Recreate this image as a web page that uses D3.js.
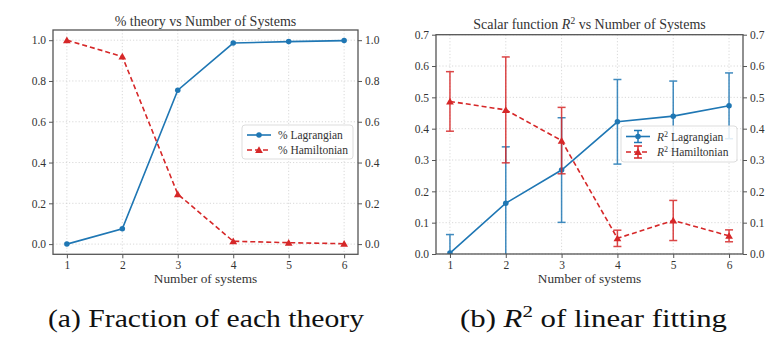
<!DOCTYPE html>
<html>
<head>
<meta charset="utf-8">
<script src="https://cdn.jsdelivr.net/npm/d3@7"></script>
<style>
  html, body { margin: 0; padding: 0; background: #fff; }
  svg { display: block; font-family: "Liberation Serif", "DejaVu Serif", serif; }
</style>
</head>
<body>
<svg id="chart" width="776" height="346"></svg>
<script>
// ---- data ----
const systems = [1, 2, 3, 4, 5, 6];
const xTicks = [1, 2, 3, 4, 5, 6];

const fracLagrangian = [0.0, 0.075, 0.755, 0.986, 0.993, 0.998];
const fracHamiltonian = [1.0, 0.92, 0.245, 0.014, 0.007, 0.002];
const fracTicks = [0.0, 0.2, 0.4, 0.6, 0.8, 1.0];

const r2Lagrangian = [0.003, 0.162, 0.268, 0.422, 0.440, 0.473];
const r2LagrangianErr = [0.059, 0.180, 0.167, 0.135, 0.112, 0.105];
const r2Hamiltonian = [0.487, 0.460, 0.362, 0.050, 0.107, 0.058];
const r2HamiltonianErr = [0.095, 0.169, 0.106, 0.026, 0.064, 0.019];
const r2Ticks = [0.0, 0.1, 0.2, 0.3, 0.4, 0.5, 0.6, 0.7];

const BLUE = "#1f77b4", RED = "#d62728";
const svg = d3.select("#chart");

function addParts(textSel, parts, supSize, shift) {
  parts.forEach(p => {
    const ts = textSel.append("tspan").text(p.t);
    if (p.i) ts.attr("font-style", "italic");
    if (p.sup) ts.attr("font-size", supSize).attr("dy", -shift);
    if (p.down) ts.attr("dy", shift);
  });
}

function panel(opts) {
  const { id, left, right, top, bottom, yDomain, yTicks, series, legend } = opts;
  const x = d3.scaleLinear().domain([0.75, 6.25]).range([left, right]);
  const y = d3.scaleLinear().domain(yDomain).range([bottom, top]);
  const g = svg.append("g");

  g.append("clipPath").attr("id", "clip" + id)
    .append("rect").attr("x", left).attr("y", top)
    .attr("width", right - left).attr("height", bottom - top);

  // grid
  const grid = g.append("g").attr("stroke", "#cfcfcf").attr("stroke-width", 0.8)
    .attr("stroke-dasharray", "1.2,2");
  grid.selectAll(".gx").data(xTicks).join("line")
    .attr("x1", d => x(d)).attr("x2", d => x(d)).attr("y1", top).attr("y2", bottom);
  grid.selectAll(".gy").data(yTicks).join("line")
    .attr("y1", d => y(d)).attr("y2", d => y(d)).attr("x1", left).attr("x2", right);

  // axes
  const fmt = d3.format(".1f");
  const axStyle = sel => {
    sel.select(".domain").remove();
    sel.selectAll(".tick line").attr("stroke", "#555").attr("stroke-width", 1);
    sel.selectAll(".tick text").attr("fill", "#333").attr("font-size", 11.5)
      .attr("font-family", "Liberation Serif, serif");
  };
  g.append("g").attr("transform", `translate(0,${bottom})`)
    .call(d3.axisBottom(x).tickValues(xTicks).tickFormat(d3.format("d")).tickSize(4).tickPadding(3))
    .call(axStyle);
  g.append("g").attr("transform", `translate(${left},0)`)
    .call(d3.axisLeft(y).tickValues(yTicks).tickFormat(fmt).tickSize(4).tickPadding(3))
    .call(axStyle);
  g.append("g").attr("transform", `translate(${right},0)`)
    .call(d3.axisRight(y).tickValues(yTicks).tickFormat(fmt).tickSize(4).tickPadding(3))
    .call(axStyle);

  // series
  const plot = g.append("g").attr("clip-path", `url(#clip${id})`);
  series.forEach(s => {
    const pts = systems.map((d, i) => ({ x: d, y: s.values[i], e: s.err ? s.err[i] : 0 }));
    if (s.err) {
      const eb = plot.append("g").attr("stroke", s.color).attr("stroke-width", 1.5).attr("opacity", 0.85);
      eb.selectAll(".v").data(pts).join("line")
        .attr("x1", d => x(d.x)).attr("x2", d => x(d.x))
        .attr("y1", d => y(d.y - d.e)).attr("y2", d => y(d.y + d.e));
      eb.selectAll(".ct").data(pts).join("line")
        .attr("x1", d => x(d.x) - 4).attr("x2", d => x(d.x) + 4)
        .attr("y1", d => y(d.y + d.e)).attr("y2", d => y(d.y + d.e));
      eb.selectAll(".cb").data(pts).join("line")
        .attr("x1", d => x(d.x) - 4).attr("x2", d => x(d.x) + 4)
        .attr("y1", d => y(d.y - d.e)).attr("y2", d => y(d.y - d.e));
    }
    plot.append("path").datum(pts)
      .attr("fill", "none").attr("stroke", s.color).attr("stroke-width", 1.6)
      .attr("stroke-dasharray", s.dash ? "5,3" : null)
      .attr("d", d3.line().x(d => x(d.x)).y(d => y(d.y)));
    const sym = d3.symbol().type(s.marker === "tri" ? d3.symbolTriangle : d3.symbolCircle)
      .size(s.marker === "tri" ? 26 : 24);
    plot.selectAll(null).data(pts).join("path")
      .attr("transform", d => `translate(${x(d.x)},${y(d.y) + (s.marker === "tri" ? 0.8 : 0)})`)
      .attr("d", sym).attr("fill", s.color);
  });

  // frame
  g.append("rect").attr("x", left).attr("y", top).attr("width", right - left)
    .attr("height", bottom - top).attr("fill", "none").attr("stroke", "#555").attr("stroke-width", 1.3);

  // title
  const t = g.append("text").attr("x", (left + right) / 2).attr("y", opts.titleY)
    .attr("text-anchor", "middle").attr("font-size", 14).attr("fill", "#333");
  addParts(t, opts.title, 9.5, 5);
  g.append("text").attr("x", (left + right) / 2).attr("y", 283)
    .attr("text-anchor", "middle").attr("font-size", 13.3).attr("fill", "#333")
    .text("Number of systems");

  // legend
  const lg = g.append("g");
  lg.append("rect").attr("x", legend.x).attr("y", legend.y).attr("width", legend.w)
    .attr("height", legend.h).attr("rx", 3).attr("fill", "rgba(255,255,255,0.85)")
    .attr("stroke", "#ddd").attr("stroke-width", 1);
  series.forEach((s, i) => {
    const ly = legend.rows[i];
    const lx1 = legend.x + 5, lx2 = legend.x + 29, cx = (lx1 + lx2) / 2;
    lg.append("line").attr("x1", lx1).attr("x2", lx2).attr("y1", ly).attr("y2", ly)
      .attr("stroke", s.color).attr("stroke-width", 1.6)
      .attr("stroke-dasharray", s.dash ? "5,3" : null);
    if (s.err) {
      lg.append("line").attr("x1", cx).attr("x2", cx).attr("y1", ly - 6).attr("y2", ly + 6)
        .attr("stroke", s.color).attr("stroke-width", 1.5);
      [ly - 6, ly + 6].forEach(cy => lg.append("line").attr("x1", cx - 4).attr("x2", cx + 4)
        .attr("y1", cy).attr("y2", cy).attr("stroke", s.color).attr("stroke-width", 1.5));
    }
    const sym = d3.symbol().type(s.marker === "tri" ? d3.symbolTriangle : d3.symbolCircle)
      .size(s.marker === "tri" ? 26 : 24);
    lg.append("path").attr("transform", `translate(${cx},${ly + (s.marker === "tri" ? 0.8 : 0)})`)
      .attr("d", sym).attr("fill", s.color);
    const tx = lg.append("text").attr("x", legend.x + 36).attr("y", ly + 4)
      .attr("font-size", 11.5).attr("fill", "#333");
    addParts(tx, s.label, 8, 4);
  });
}

panel({
  id: "a", left: 53, right: 358, top: 30, bottom: 254.3,
  yDomain: [-0.05, 1.05], yTicks: fracTicks, titleY: 26,
  title: [{ t: "% theory vs Number of Systems" }],
  series: [
    { values: fracLagrangian, color: BLUE, marker: "circle", dash: false, label: [{ t: "% Lagrangian" }] },
    { values: fracHamiltonian, color: RED, marker: "tri", dash: true, label: [{ t: "% Hamiltonian" }] }
  ],
  legend: { x: 242, y: 125, w: 111, h: 34, rows: [135, 150] }
});

panel({
  id: "b", left: 436, right: 743, top: 34.7, bottom: 254,
  yDomain: [0, 0.7], yTicks: r2Ticks, titleY: 29,
  title: [{ t: "Scalar function " }, { t: "R", i: true }, { t: "2", sup: true }, { t: " vs Number of Systems", down: true }],
  series: [
    { values: r2Lagrangian, err: r2LagrangianErr, color: BLUE, marker: "circle", dash: false,
      label: [{ t: "R", i: true }, { t: "2", sup: true }, { t: " Lagrangian", down: true }] },
    { values: r2Hamiltonian, err: r2HamiltonianErr, color: RED, marker: "tri", dash: true,
      label: [{ t: "R", i: true }, { t: "2", sup: true }, { t: " Hamiltonian", down: true }] }
  ],
  legend: { x: 621, y: 126, w: 116, h: 36, rows: [136.5, 152] }
});

// captions
const cap = svg.append("g").attr("font-size", 25).attr("fill", "#111");
cap.append("text").attr("x", 48).attr("y", 327)
  .attr("textLength", 316).attr("lengthAdjust", "spacingAndGlyphs")
  .text("(a) Fraction of each theory");
const cb = cap.append("text").attr("x", 460).attr("y", 327)
  .attr("textLength", 267).attr("lengthAdjust", "spacingAndGlyphs");
cb.append("tspan").text("(b) ");
cb.append("tspan").attr("font-style", "italic").text("R");
cb.append("tspan").attr("font-size", 17).attr("dy", -10).text("2");
cb.append("tspan").attr("dy", 10).text(" of linear fitting");
</script>
</body>
</html>
